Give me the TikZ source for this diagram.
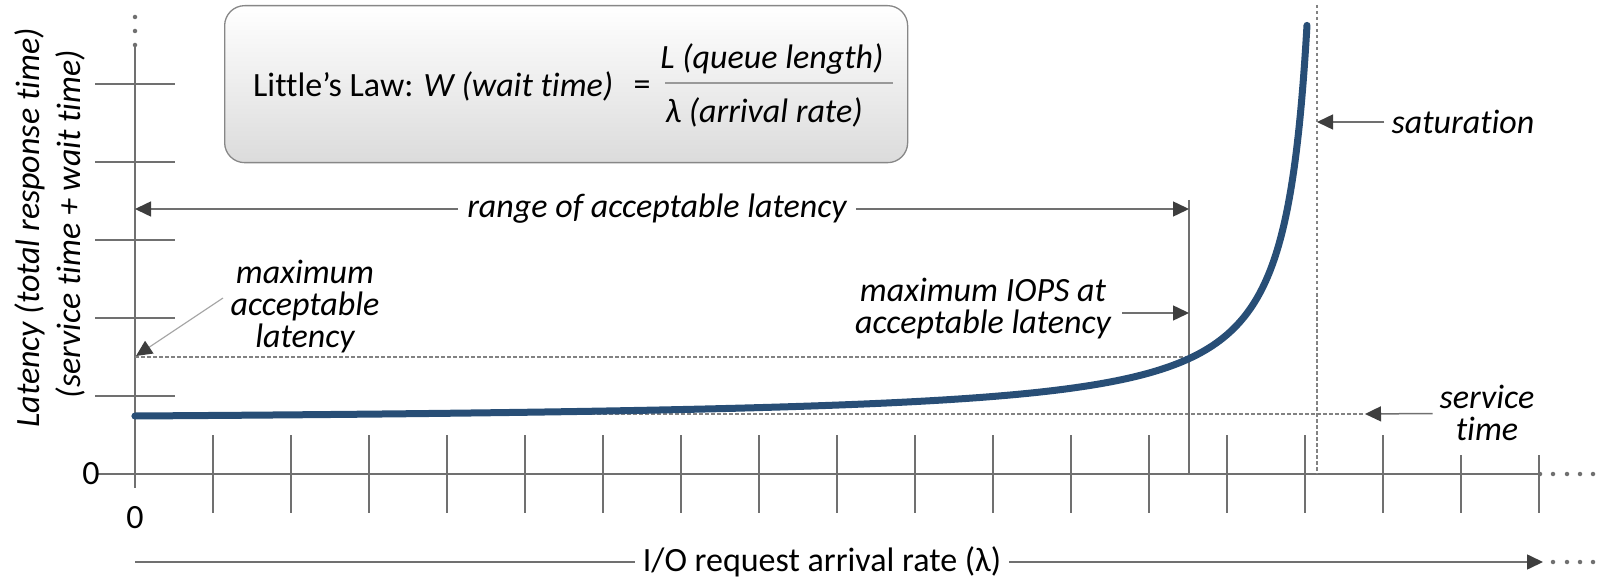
\documentclass[tikz,border=0pt]{standalone}
\usepackage{fontspec}
\setmainfont{Carlito}[Ligatures={NoCommon}]
\usetikzlibrary{arrows.meta}
\definecolor{axisgray}{RGB}{112,112,112}
\definecolor{guidegray}{RGB}{130,130,130}
\definecolor{tipgray}{RGB}{62,62,62}
\definecolor{curveblue}{RGB}{40,78,118}
\definecolor{boxedge}{RGB}{135,135,135}
\begin{document}
\begin{tikzpicture}[x=1pt,y=-1pt,
  axisline/.style={draw=axisgray,line width=1.6pt},
  tickline/.style={draw=axisgray,line width=1.5pt},
  guide/.style={draw=guidegray,line width=1.2pt,dash pattern=on 3.5pt off 2.5pt},
  pointer/.style={draw=axisgray,line width=1.5pt,-{Triangle[length=16pt,width=15pt,color=tipgray]}},
  lbl/.style={font=\fontsize{34}{32}\selectfont\itshape,inner sep=0pt,align=center},
  plain/.style={font=\fontsize{34}{40}\selectfont,inner sep=0pt},
  dotmark/.style={circle,fill=axisgray,inner sep=0pt,minimum size=4.5pt},
]
\useasboundingbox (0,0) rectangle (1599,580);

% formula box
\node[draw=boxedge,line width=1.3pt,rounded corners=20pt,top color=white,bottom color=black!14,
      minimum width=683pt,minimum height=157pt,anchor=north west] (lawbox) at (224,5) {};
\node[plain,anchor=base west] (lawtext) at (253,97) {Little’s Law: \textit{W (wait time)}};
\node[plain] (eq) at (642,88) {=};
\node[plain] (num) at (772,59) {\textit{L (queue length)}};
\node[plain] (den) at (764,112) {\textit{λ (arrival rate)}};
\coordinate (fracL) at (665,83);
\coordinate (fracR) at (893,83);
\draw[draw=black!40,line width=1.3pt] (fracL) -- (fracR);

% grid ticks
\foreach \yy in {84,162,240,318,396}
  \draw[tickline] (95,\yy) -- (175,\yy);
\foreach \k in {1,...,16}
  \draw[tickline] ({135+78*\k},435) -- ({135+78*\k},513);
\foreach \k in {17,18}
  \draw[tickline] ({135+78*\k},455) -- ({135+78*\k},513);

% axes
\coordinate (ytop) at (135,45);
\coordinate (ybot) at (135,488);
\draw[axisline] (ytop) -- (ybot);
\foreach \yy in {17,31,45}
  \node[dotmark] at (135,\yy) {};
\coordinate (xstart) at (97,474);
\coordinate (xend) at (1540,474);
\draw[axisline] (xstart) -- (xend);
\foreach \xx in {1540,1553,1567,1580,1593}
  \node[dotmark] at (\xx,474) {};

\node[plain] (yzero) at (91,474) {0};
\node[plain] (xzero) at (135,518) {0};

% axis titles
\node[lbl,rotate=90] (ylab1) at (30,228) {Latency (total response time)};
\node[lbl,rotate=90] (ylab2) at (70,224) {(service time + wait time)};

\node[plain] (xlab) at (822,562) {I/O request arrival rate (λ)};
\coordinate (xarrowbase) at (135,562);
\coordinate (xarrowtip) at (1543,562);
\draw[axisline] ([xshift=-8pt]xlab.west) -- (xarrowbase);
\draw[axisline,-{Triangle[length=16pt,width=15pt,color=tipgray]}] ([xshift=8pt]xlab.east) -- (xarrowtip);
\foreach \xx in {1553,1567,1580,1593}
  \node[dotmark] at (\xx,562) {};

% reference lines
\coordinate (satTop) at (1317,5);
\coordinate (satBot) at (1317,474);
\draw[guide] (satTop) -- (satBot);
\coordinate (maxL) at (135,357);
\coordinate (maxR) at (1189,357);
\draw[guide] (maxL) -- (maxR);
\coordinate (svcL) at (135,414);
\coordinate (svcR) at (1365,414);
\draw[guide] (svcL) -- (svcR);
\coordinate (iopsTop) at (1189,200);
\coordinate (iopsBot) at (1189,474);
\draw[tickline] (iopsTop) -- (iopsBot);

% latency curve
\draw[curveblue,line width=7pt,line cap=round]
  plot[domain=7.086:3.135,samples=180,variable=\t]
  ({1330-exp(\t)},{416-9170/exp(\t)+7.674});

% annotations
\node[lbl] (range) at (657,209) {range of acceptable latency};
\coordinate (rangeL) at (135,209);
\coordinate (rangeR) at (1189,209);
\draw[pointer] ([xshift=-9pt]range.west) -- (rangeL);
\draw[pointer] ([xshift=9pt]range.east) -- (rangeR);

\node[lbl] (iops) at (983,309) {maximum IOPS at\\acceptable latency};
\coordinate (iopsFrom) at (1122,313);
\coordinate (iopsPt) at (1189,313);
\draw[pointer] (iopsFrom) -- (iopsPt);

\node[lbl] (maxacc) at (305,307) {maximum\\acceptable\\latency};
\coordinate (maxaccFrom) at (223,298);
\coordinate (maxaccPt) at (136,356);
\draw[pointer,draw=black!35,line width=1.2pt] (maxaccFrom) -- (maxaccPt);

\node[lbl] (sat) at (1463,122) {saturation};
\coordinate (satPt) at (1317,122);
\draw[pointer] ([xshift=-7pt]sat.west) -- (satPt);

\node[lbl] (svc) at (1487,413) {service\\time};
\coordinate (svcPt) at (1365,414);
\draw[pointer] ([xshift=-7pt,yshift=-0.5pt]svc.west) -- (svcPt);
\end{tikzpicture}
\end{document}
